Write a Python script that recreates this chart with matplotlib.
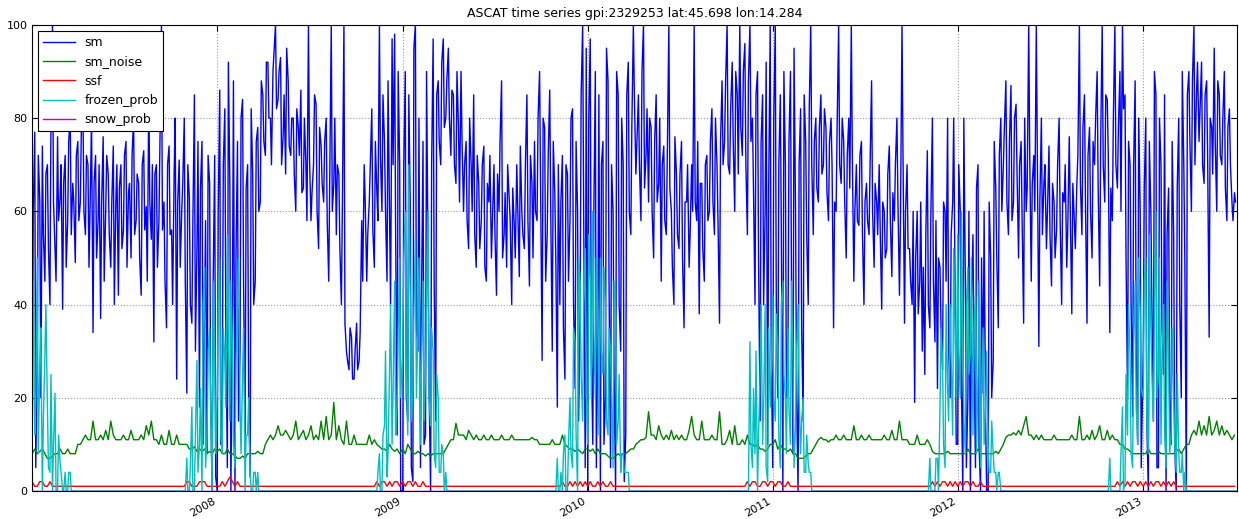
import pandas as pd
import numpy as np
import matplotlib
matplotlib.use("Agg")
import matplotlib.pyplot as plt
import matplotlib.dates as mdates

# values, one point every 5 days starting Jan 1 of each year
sm_2007 = [8, 77, 30, 62, 74, 45,
           70, 40, 100, 52, 76, 63,
           39, 72, 58, 80, 66, 49,
           75, 62, 84, 55, 70, 66,
           34, 72, 58, 37, 76, 60,
           68, 48, 74, 62, 42, 70,
           56, 75, 64, 50, 80, 58,
           66, 42, 73, 61, 85, 54,
           32, 70, 58, 100, 62, 35,
           74, 56, 68, 24, 71, 60,
           80, 21, 63, 36, 85, 52,
           18, 75, 40, 8, 66, 0, 72]
sm_2008 = [0, 86, 20, 82, 5, 65,
           40, 0, 75, 30, 84, 10,
           70, 3, 68, 45, 78, 62,
           85, 72, 92, 80, 90, 100,
           84, 93, 76, 68, 88, 72,
           80, 60, 78, 86, 65, 70,
           100, 58, 70, 83, 52, 74,
           62, 80, 45, 100, 66, 55,
           68, 40, 100, 30, 26, 33,
           24, 36, 28, 58, 70, 45,
           62, 82, 48, 64, 100, 60,
           75, 45, 58, 97, 98, 12, 70]
sm_2009 = [0, 90, 15, 60, 2, 100,
           30, 5, 75, 12, 50, 0,
           97, 15, 88, 70, 97, 80,
           95, 72, 85, 66, 78, 90,
           60, 75, 52, 70, 85, 48,
           66, 58, 74, 45, 62, 50,
           70, 42, 60, 88, 55, 48,
           63, 40, 57, 70, 46, 60,
           52, 85, 44, 66, 75, 58,
           90, 28, 78, 55, 86, 30,
           64, 18, 40, 72, 24, 68,
           58, 82, 22, 60, 38, 100, 5]
sm_2010 = [0, 97, 10, 90, 35, 0,
           75, 20, 88, 5, 60, 0,
           85, 30, 70, 12, 92, 55,
           100, 68, 85, 58, 100, 72,
           62, 78, 50, 85, 66, 45,
           74, 55, 100, 60, 40, 68,
           52, 75, 35, 62, 48, 70,
           100, 58, 38, 66, 45, 72,
           60, 82, 55, 70, 36, 88,
           75, 100, 68, 92, 60, 85,
           100, 72, 96, 55, 100, 80,
           40, 90, 15, 85, 60, 10, 100]
sm_2011 = [5, 100, 20, 85, 0, 70,
           30, 90, 8, 60, 0, 82,
           15, 75, 40, 100, 55, 80,
           62, 85, 70, 78, 58, 80,
           35, 60, 100, 66, 75, 50,
           80, 100, 45, 70, 57, 75,
           40, 66, 55, 88, 48, 62,
           70, 39, 60, 52, 74, 46,
           58, 80, 42, 100, 36, 70,
           52, 40, 19, 60, 45, 30,
           25, 73, 35, 80, 32, 22,
           48, 26, 60, 80, 20, 62, 40]
sm_2012 = [10, 60, 0, 45, 20, 0,
           55, 5, 70, 0, 21, 15,
           0, 50, 28, 65, 35, 80,
           70, 88, 55, 87, 62, 83,
           50, 75, 36, 60, 100, 45,
           72, 100, 31, 80, 66, 52,
           74, 44, 62, 56, 80, 40,
           62, 48, 76, 38, 58, 66,
           100, 55, 85, 36, 78, 50,
           70, 90, 44, 100, 62, 84,
           34, 58, 100, 65, 90, 100,
           85, 20, 70, 16, 88, 10, 60]
sm_2013 = [30, 80, 0, 60, 15, 85,
           5, 70, 25, 0, 65, 10,
           55, 0, 80, 20, 70, 0,
           90, 60, 100, 85, 75, 92,
           66, 88, 33, 78, 95, 60,
           85, 70, 90, 58, 82, 62, 64]

# second pass of sm readings, in between (every 5 days starting Jan 3)
sm_2007b = [60, 5, 72, 20, 55, 68,
            52, 80, 62, 45, 58, 70,
            66, 48, 75, 55, 62, 72,
            58, 78, 60, 72, 48, 80,
            66, 50, 70, 62, 45, 72,
            55, 62, 40, 70, 65, 52,
            72, 48, 66, 72, 55, 68,
            50, 70, 56, 45, 62, 70,
            68, 48, 75, 56, 45, 70,
            55, 40, 80, 62, 48, 66,
            45, 70, 40, 58, 30, 75,
            65, 10, 58, 72, 20, 45, 3]
sm_2008b = [60, 10, 70, 35, 92, 0,
            88, 50, 15, 80, 45, 65,
            20, 82, 40, 75, 60, 88,
            75, 92, 80, 70, 94, 82,
            90, 70, 85, 95, 74, 80,
            68, 82, 72, 64, 80, 58,
            72, 64, 85, 60, 78, 66,
            75, 58, 68, 60, 80, 70,
            52, 62, 36, 28, 35, 24,
            30, 26, 34, 45, 62, 55,
            70, 56, 75, 58, 72, 85,
            60, 88, 40, 70, 55, 90, 0]
sm_2009b = [70, 20, 85, 5, 95, 35,
            80, 40, 10, 90, 22, 70,
            45, 85, 75, 92, 78, 88,
            80, 86, 70, 90, 62, 75,
            70, 58, 80, 60, 55, 72,
            52, 70, 48, 66, 72, 58,
            55, 68, 75, 50, 64, 70,
            58, 65, 50, 60, 74, 55,
            70, 58, 72, 50, 60, 80,
            65, 80, 45, 72, 60, 75,
            50, 70, 62, 35, 70, 45,
            80, 40, 75, 15, 85, 60, 95]
sm_2010b = [80, 30, 60, 5, 85, 70,
            10, 95, 45, 70, 25, 90,
            40, 80, 2, 85, 60, 78,
            85, 75, 70, 90, 65, 82,
            80, 60, 75, 62, 80, 70,
            58, 72, 65, 48, 76, 55,
            68, 50, 62, 70, 55, 60,
            62, 75, 66, 52, 70, 58,
            75, 62, 80, 58, 75, 70,
            88, 70, 82, 75, 90, 68,
            78, 90, 70, 88, 75, 65,
            85, 50, 75, 40, 92, 65, 30]
sm_2011b = [80, 40, 70, 55, 90, 20,
            75, 45, 95, 20, 70, 35,
            85, 55, 82, 70, 75, 65,
            78, 68, 82, 64, 75, 70,
            62, 78, 70, 80, 62, 72,
            65, 72, 60, 58, 72, 55,
            62, 58, 70, 60, 66, 55,
            56, 62, 50, 68, 58, 64,
            70, 62, 58, 72, 60, 52,
            45, 60, 50, 38, 62, 48,
            55, 40, 60, 45, 58, 50,
            35, 62, 45, 30, 55, 80, 10]
sm_2012b = [70, 25, 80, 5, 60, 40,
            30, 65, 10, 50, 60, 0,
            62, 20, 75, 50, 72, 60,
            78, 62, 75, 58, 80, 68,
            70, 58, 80, 65, 72, 66,
            60, 72, 62, 55, 70, 60,
            55, 66, 50, 70, 58, 64,
            70, 56, 60, 66, 52, 72,
            66, 78, 62, 72, 60, 75,
            80, 65, 75, 70, 85, 72,
            65, 80, 70, 78, 60, 82,
            50, 75, 40, 70, 30, 80, 5]
sm_2013b = [65, 15, 75, 40, 90, 5,
            80, 35, 85, 55, 20, 75,
            10, 65, 40, 90, 50, 85,
            75, 88, 70, 92, 82, 70,
            85, 72, 80, 68, 75, 88,
            72, 80, 65, 78, 70, 58, 62]

noise_2007 = [8, 9, 8, 8.5, 9, 8,
              7, 7, 7.5, 8, 8, 9,
              8, 8, 9, 8, 8, 8,
              10, 10, 11, 12, 11, 11,
              15, 11, 11, 12, 11, 13,
              11, 15, 12, 11, 11, 11,
              12, 11, 11, 13, 11, 11,
              11, 12, 11, 14, 12, 15,
              11, 11, 10, 12, 10, 10,
              13, 10, 10, 12, 10, 10,
              10, 10, 9, 9, 9.5, 8.5,
              9, 8.5, 9, 8, 8.5, 8, 9]
noise_2008 = [8.5, 9, 8, 8, 9, 8,
              8, 7.5, 7, 7, 7.5, 7,
              8, 8, 8, 8, 8.5, 8,
              8, 10, 11, 12, 11, 12,
              14, 12, 12, 13, 12, 11,
              12, 15, 11, 12, 13, 11,
              12, 14, 11, 12, 11, 15,
              11, 16, 11, 12, 19, 11,
              14, 11, 10, 15, 10, 10,
              12, 10, 10, 10, 10, 10,
              12, 10, 11, 10, 9.5, 9,
              9, 8.5, 10, 9, 8.5, 9, 8]
noise_2009 = [9, 8, 10, 9, 8, 8,
              8.5, 8, 8, 7.5, 8, 7.5,
              8, 8, 8, 8, 8, 9,
              10, 11, 11, 14.5, 12, 12,
              12, 11, 13, 12, 11, 12,
              11, 11, 12, 11, 11, 12,
              11, 11, 11, 12, 11, 11,
              11, 12, 11, 11, 11, 11,
              11, 11, 11, 11.5, 11, 11,
              10, 10, 10, 10, 10, 11,
              10, 10, 10, 12, 10, 9.5,
              9, 9, 8.5, 9, 8.5, 8, 9]
noise_2010 = [9, 8.5, 9, 8, 9, 8,
              8, 8, 7.5, 7, 7, 7.5,
              8, 7.5, 8, 8, 8.5, 9,
              9, 10, 10.5, 11, 11, 11.5,
              17, 12, 12, 11, 14, 12,
              11, 12, 11, 13, 11, 12,
              11, 12, 11, 11, 13, 16,
              12, 11, 11, 15, 11, 11,
              11, 12, 11, 11, 17, 10,
              10, 11, 13, 10, 14, 10,
              10, 11, 10, 12, 10, 10,
              9.5, 10, 9, 9, 8.5, 9, 10]
noise_2011 = [10, 11, 9, 10, 9, 9,
              8.5, 9, 8, 8, 7, 7,
              7, 7.5, 8, 8, 9, 10,
              11, 11.5, 11, 11, 10.5, 11,
              11, 12, 11, 11, 12, 11,
              11, 11, 14, 11, 11, 12,
              11, 11, 12, 11, 11, 11,
              11, 11, 12, 11, 11, 13,
              11, 11, 15, 11, 11, 11,
              10, 10, 10, 12, 10, 10,
              10, 11, 10, 8.5, 8, 8,
              8, 8, 8, 8.5, 8, 8, 8]
noise_2012 = [8, 8, 8, 8, 9, 8,
              8, 8, 9, 8, 8, 8,
              8, 8, 8, 8.5, 8, 9,
              10, 11.5, 12, 12, 12.5, 12,
              13, 12, 14, 16, 12, 12,
              11, 12, 11, 12, 11, 11,
              11, 11, 12, 11, 11, 11,
              11, 11, 11, 12, 11, 11,
              16, 11, 11, 12, 11, 13,
              11, 12, 14, 11, 11, 13,
              11, 12, 11, 11, 10, 10,
              9, 9, 8.5, 8, 8, 8, 8]
noise_2013 = [8, 8, 9, 8, 8, 8,
              8.5, 8, 8, 8, 8, 8,
              8, 8.5, 9, 8, 9, 10,
              10, 12, 13, 12, 15, 12,
              14, 12, 16, 12, 13, 15,
              12, 14, 12, 13, 12, 11, 12]

frozen_2007 = [29, 12, 50, 28, 0, 29, 18, 4, 0, 21, 0, 6, 0, 4, 0, 4, 0, 0] + [0] * 42 + \
              [0, 7, 0, 18, 0, 28, 10, 0, 48, 12, 35, 0, 30]
frozen_2008 = [20, 50, 8, 28, 55, 15, 30, 5, 40, 18, 25, 0, 12, 4, 0, 4, 4, 0] + [0] * 42 + \
              [0, 0, 0, 0, 8, 0, 14, 3, 26, 10, 45, 18, 50]
frozen_2009 = [30, 60, 12, 40, 22, 55, 35, 10, 45, 25, 60, 14, 30, 5, 20, 4, 8, 4] + [0] * 42 + \
              [0, 7, 0, 0, 12, 0, 20, 5, 32, 0, 45, 15, 52]
frozen_2010 = [10, 45, 60, 20, 35, 50, 25, 40, 12, 30, 5, 38, 15, 4, 8, 4, 4, 0] + [0] * 42 + \
              [0, 0, 0, 0, 32, 5, 8, 0, 25, 10, 40, 2, 18]
frozen_2011 = [42, 15, 30, 5, 45, 20, 35, 10, 28, 14, 40, 8, 20, 4, 6, 4, 0, 0] + [0] * 42 + \
              [0, 0, 7, 0, 0, 7, 18, 28, 5, 22, 40, 12, 35]
frozen_2012 = [55, 20, 38, 8, 48, 30, 12, 42, 25, 5, 35, 18, 10, 4, 8, 4, 4, 0] + [0] * 42 + \
              [7, 0, 0, 0, 0, 18, 2, 12, 29, 5, 45, 10, 38]
frozen_2013 = [20, 50, 8, 35, 15, 60, 25, 10, 40, 5, 30, 12, 20, 4, 8, 4, 0, 0] + [0] * 19

frozen_2007b = [45, 20, 8, 35, 15, 40, 5, 25, 10, 0, 12, 4, 0, 0, 4, 0, 0, 0] + [0] * 42 + \
               [0, 0, 5, 0, 12, 4, 22, 40, 5, 30, 18, 45, 8]
frozen_2008b = [40, 12, 35, 18, 30, 45, 10, 28, 50, 8, 35, 12, 20, 0, 4, 0, 0, 0] + [0] * 42 + \
               [0, 0, 0, 4, 0, 12, 30, 8, 40, 22, 12, 35, 20]
frozen_2009b = [50, 25, 70, 15, 38, 20, 50, 28, 15, 42, 20, 35, 8, 25, 4, 10, 0, 0] + [0] * 42 + \
               [0, 0, 4, 8, 0, 10, 8, 35, 12, 50, 25, 40, 20]
frozen_2010b = [55, 20, 35, 50, 12, 30, 48, 15, 35, 20, 45, 10, 25, 8, 4, 4, 0, 0] + [0] * 42 + \
               [0, 0, 0, 0, 10, 22, 30, 12, 40, 18, 5, 35, 25]
frozen_2011b = [20, 38, 12, 40, 25, 8, 18, 45, 5, 30, 20, 15, 4, 12, 4, 0, 0, 0] + [0] * 42 + \
               [0, 0, 0, 0, 7, 0, 35, 10, 40, 15, 28, 52, 20]
frozen_2012b = [30, 60, 15, 40, 25, 50, 35, 8, 45, 20, 10, 30, 4, 15, 4, 0, 4, 0] + [0] * 42 + \
               [0, 0, 0, 0, 8, 0, 25, 40, 8, 32, 18, 50, 22]
frozen_2013b = [45, 15, 55, 25, 40, 20, 50, 30, 12, 45, 8, 35, 10, 25, 4, 8, 4, 0] + [0] * 19

ssf_2007 = [2, 1, 1, 2, 2, 1, 1, 2, 1, 1, 1, 1] + [1] * 48 + [1, 2, 2, 1, 1, 1, 2, 2, 2, 1, 1, 1, 1]
ssf_2008 = [1, 1, 2, 1, 2, 3, 2, 1, 2, 1, 1, 1] + [1] * 50 + [1, 2, 1, 2, 2, 1, 2, 1, 2, 2, 1]
ssf_2009 = [2, 1, 2, 2, 1, 2, 1, 1, 2, 1, 1, 1] + [1] * 50 + [1, 2, 1, 1, 2, 1, 2, 1, 2, 1, 2]
ssf_2010 = [1, 2, 1, 1, 2, 1, 2, 1, 1, 2, 1, 1] + [1] * 50 + [1, 2, 1, 2, 2, 1, 1, 2, 2, 1, 2]
ssf_2011 = [2, 1, 2, 2, 1, 1, 2, 1, 1, 1, 1, 1] + [1] * 50 + [1, 2, 1, 2, 1, 2, 2, 1, 2, 1, 2]
ssf_2012 = [1, 2, 1, 2, 2, 1, 2, 1, 1, 2, 1, 1] + [1] * 50 + [1, 2, 1, 2, 1, 2, 1, 2, 2, 1, 2]
ssf_2013 = [1, 2, 1, 2, 1, 2, 2, 1, 2, 1, 2, 1, 2, 1, 1, 1] + [1] * 21

years = [2007, 2008, 2009, 2010, 2011, 2012, 2013]


def stack(parts, day="01"):
    idx, vals = [], []
    for year, v in zip(years, parts):
        idx.append(pd.date_range(f"{year}-01-{day}", periods=len(v), freq="5D"))
        vals.extend(v)
    return pd.Series(vals, index=idx[0].append(idx[1:]))


sm = pd.concat([
    stack([sm_2007, sm_2008, sm_2009, sm_2010, sm_2011, sm_2012, sm_2013]),
    stack([sm_2007b, sm_2008b, sm_2009b, sm_2010b, sm_2011b, sm_2012b, sm_2013b], day="03"),
]).sort_index()
sm_noise = stack([noise_2007, noise_2008, noise_2009, noise_2010, noise_2011, noise_2012, noise_2013])
ssf = stack([ssf_2007, ssf_2008, ssf_2009, ssf_2010, ssf_2011, ssf_2012, ssf_2013])
frozen_prob = pd.concat([
    stack([frozen_2007, frozen_2008, frozen_2009, frozen_2010, frozen_2011, frozen_2012, frozen_2013]),
    stack([frozen_2007b, frozen_2008b, frozen_2009b, frozen_2010b, frozen_2011b, frozen_2012b,
           frozen_2013b], day="03"),
]).sort_index()
snow_prob = pd.Series(0.0, index=frozen_prob.index)  # never above zero in the plot

fig = plt.figure(figsize=(12.39, 5.19), dpi=100)
ax = fig.add_axes([0.026, 0.054, 0.972, 0.898])

ax.plot(sm.index, sm.values, color=(0, 0, 1), lw=1, label="sm")
ax.plot(sm_noise.index, sm_noise.values, color=(0, 0.5, 0), lw=1, label="sm_noise")
ax.plot(ssf.index, ssf.values, color=(1, 0, 0), lw=1, label="ssf")
ax.plot(frozen_prob.index, frozen_prob.values, color=(0, 0.75, 0.75), lw=1, label="frozen_prob")
ax.plot(snow_prob.index, snow_prob.values, color=(0.75, 0, 0.75), lw=1, label="snow_prob")

ax.set_xlim(pd.Timestamp("2007-01-01"), pd.Timestamp("2013-07-04"))
ax.set_ylim(0, 100)
ax.set_yticks([0, 20, 40, 60, 80, 100])
ax.set_xticks([pd.Timestamp(f"{y}-01-01") for y in years[1:]])
ax.xaxis.set_major_formatter(mdates.DateFormatter("%Y"))
for lab in ax.get_xticklabels():
    lab.set_rotation(30)
    lab.set_ha("right")
ax.tick_params(direction="in", top=True, right=True, labelsize=8, length=4)
ax.grid(True, linestyle=":", color="0.6", linewidth=0.8)

ax.set_title("ASCAT time series gpi:2329253 lat:45.698 lon:14.284", fontsize=9)
leg = ax.legend(loc="upper left", fontsize=9, fancybox=False, framealpha=1,
                edgecolor="black", handlelength=2.5, borderaxespad=0.5)
leg.get_frame().set_linewidth(0.8)

fig.savefig("out.png", dpi=100)
